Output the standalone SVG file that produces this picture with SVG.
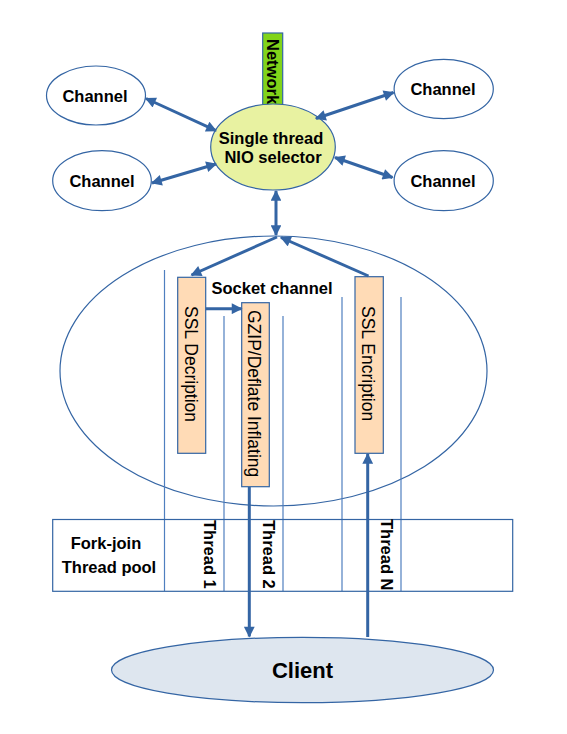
<svg xmlns="http://www.w3.org/2000/svg" width="567" height="734" viewBox="0 0 567 734">
<style>
.node{stroke:#3465a4;stroke-width:1.2}
.b{font-family:"Liberation Sans",Arial,sans-serif;font-weight:bold;font-size:16.5px;fill:#000}
.r{font-family:"Liberation Sans",Arial,sans-serif;font-size:17.5px;fill:#000}
.ln{stroke:#4f7fbf;stroke-width:1.2;fill:none}
.ar{stroke:#3465a4;stroke-width:3;fill:none}
</style>
<defs>
<marker id="ah" viewBox="0 0 10 10" refX="9" refY="5" markerWidth="4" markerHeight="3.6" orient="auto-start-reverse" markerUnits="strokeWidth">
<path d="M0,0 L10,5 L0,10 z" fill="#3465a4"/>
</marker>
</defs>
<rect width="567" height="734" fill="#fff"/>
<g id="socket">
<ellipse class="node" cx="273.5" cy="371" rx="213.5" ry="135" fill="none"/>
<text class="b" x="272" y="294" text-anchor="middle">Socket channel</text>
</g>
<g id="lines">
<line class="ln" x1="164.5" y1="270" x2="164.5" y2="591"/>
<line class="ln" x1="224" y1="316" x2="224" y2="591"/>
<line class="ln" x1="283" y1="316" x2="283" y2="591"/>
<line class="ln" x1="342" y1="297" x2="342" y2="591"/>
<line class="ln" x1="401" y1="297" x2="401" y2="591"/>
</g>
<g id="pool">
<rect class="node" x="52.7" y="519.5" width="460" height="71.8" fill="none"/>
<text class="b" x="106" y="549" text-anchor="middle">Fork-join</text>
<text class="b" x="109" y="573" text-anchor="middle">Thread pool</text>
</g>
<g id="thread1"><text class="b" transform="translate(204,520) rotate(90)">Thread 1</text></g>
<g id="thread2"><text class="b" transform="translate(263,520) rotate(90)">Thread 2</text></g>
<g id="threadN"><text class="b" transform="translate(381,519) rotate(90)">Thread N</text></g>
<g id="network">
<rect class="node" x="262.7" y="33" width="20" height="72" fill="#81d41a"/>
<text class="b" transform="translate(267,39) rotate(90)">Network</text>
</g>
<g id="selector">
<ellipse class="node" cx="273" cy="147" rx="62.3" ry="43" fill="#e8f2a1"/>
<text class="b" x="271" y="144" text-anchor="middle">Single thread</text>
<text class="b" x="273" y="163" text-anchor="middle">NIO selector</text>
</g>
<g id="ch1"><ellipse class="node" cx="96" cy="95.5" rx="49.5" ry="29.5" fill="#fff"/><text class="b" x="95" y="101.5" text-anchor="middle">Channel</text></g>
<g id="ch2"><ellipse class="node" cx="102" cy="180.7" rx="49.3" ry="30" fill="#fff"/><text class="b" x="102" y="186.5" text-anchor="middle">Channel</text></g>
<g id="ch3"><ellipse class="node" cx="443.7" cy="89" rx="49.6" ry="29.7" fill="#fff"/><text class="b" x="443" y="94.5" text-anchor="middle">Channel</text></g>
<g id="ch4"><ellipse class="node" cx="443.7" cy="180.7" rx="49.6" ry="30" fill="#fff"/><text class="b" x="443" y="186.5" text-anchor="middle">Channel</text></g>
<g id="ssldec">
<rect class="node" x="177.7" y="277.3" width="28" height="176" fill="#ffdbb6"/>
<text class="r" transform="translate(184.5,306) rotate(90)">SSL Decription</text>
</g>
<g id="gzip">
<rect class="node" x="241.7" y="302.7" width="27.6" height="184" fill="#ffdbb6"/>
<text class="r" transform="translate(248,310) rotate(90)">GZIP/Deflate Inflating</text>
</g>
<g id="sslenc">
<rect class="node" x="355" y="276.7" width="28.3" height="176.6" fill="#ffdbb6"/>
<text class="r" transform="translate(362.2,306) rotate(90)">SSL Encription</text>
</g>
<g id="client">
<ellipse class="node" cx="302.5" cy="670" rx="191" ry="32.7" fill="#dee6ef"/>
<text class="b" x="302.5" y="678" text-anchor="middle" style="font-size:22px">Client</text>
</g>
<g id="connectors">
<line class="ar" x1="146" y1="98.5" x2="216" y2="130.7" marker-start="url(#ah)" marker-end="url(#ah)"/>
<line class="ar" x1="152" y1="183" x2="216" y2="164" marker-start="url(#ah)" marker-end="url(#ah)"/>
<line class="ar" x1="316" y1="118.5" x2="393.5" y2="92.5" marker-start="url(#ah)" marker-end="url(#ah)"/>
<line class="ar" x1="335" y1="157.5" x2="392.5" y2="177.5" marker-start="url(#ah)" marker-end="url(#ah)"/>
<line class="ar" x1="276" y1="191" x2="276" y2="235" marker-start="url(#ah)" marker-end="url(#ah)"/>
<line class="ar" x1="277" y1="237" x2="191.5" y2="275" marker-end="url(#ah)"/>
<line class="ar" x1="368.5" y1="276" x2="281" y2="237.5" marker-end="url(#ah)"/>
<line class="ar" x1="205.7" y1="308.7" x2="241.5" y2="308.7" marker-end="url(#ah)"/>
<line class="ar" x1="249.3" y1="487" x2="249.3" y2="636.5" marker-end="url(#ah)"/>
<line class="ar" x1="367.7" y1="637" x2="367.7" y2="454" marker-end="url(#ah)"/>
</g>
</svg>
